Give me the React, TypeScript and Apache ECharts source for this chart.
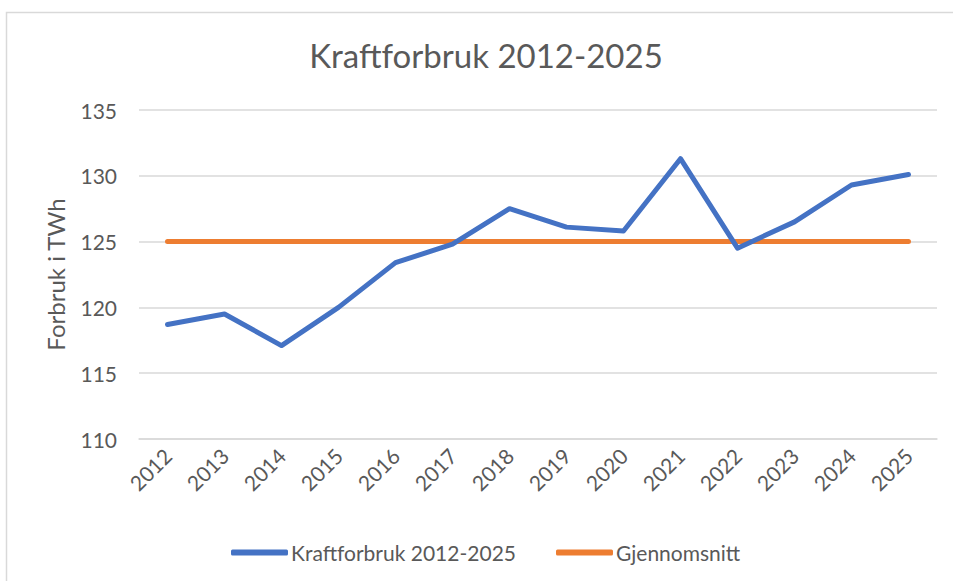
import React, { useEffect, useRef } from "react";
import * as echarts from "echarts";

const years = ["2012", "2013", "2014", "2015", "2016", "2017", "2018", "2019", "2020", "2021", "2022", "2023", "2024", "2025"];
const consumption = [118.7, 119.5, 117.1, 120.0, 123.4, 124.8, 127.5, 126.1, 125.8, 131.3, 124.5, 126.5, 129.3, 130.1];
const average = [125, 125, 125, 125, 125, 125, 125, 125, 125, 125, 125, 125, 125, 125];
const yTicks = { min: 110, max: 135, interval: 5 };

const FONT = "Lato, 'Noto Sans', sans-serif";
const TEXT = "#595959";

export default function App() {
  const ref = useRef<HTMLDivElement>(null);
  useEffect(() => {
    document.body.style.margin = "0";
    const chart = echarts.init(ref.current!, null, { renderer: "svg" });
    chart.setOption({
      animation: false,
      backgroundColor: "#ffffff",
      textStyle: { fontFamily: FONT, color: TEXT },
      title: {
        text: "Kraftforbruk 2012-2025",
        left: 481,
        top: 33,
        textAlign: "center",
        textStyle: { fontFamily: FONT, fontSize: 33, fontWeight: "normal", color: TEXT },
      },
      graphic: [
        {
          type: "rect",
          silent: true,
          shape: { x: 6.5, y: 12.5, width: 1000, height: 1000 },
          style: { fill: "none", stroke: "#d9d9d9", lineWidth: 1.5 },
        },
      ],
      legend: {
        left: 226,
        top: 537,
        itemWidth: 57,
        itemHeight: 6,
        itemGap: 40,
        icon: "roundRect",
        textStyle: { fontFamily: FONT, fontSize: 21, color: TEXT, padding: [0, 0, 0, -2] },
        data: ["Kraftforbruk 2012-2025", "Gjennomsnitt"],
      },
      grid: { left: 139, right: 16, top: 110, bottom: 142 },
      xAxis: {
        type: "category",
        data: years,
        boundaryGap: true,
        axisLine: { lineStyle: { color: "#d9d9d9", width: 1.5 } },
        axisTick: { show: false },
        axisLabel: { rotate: 45, fontSize: 21, color: TEXT, fontFamily: FONT, margin: 13 },
      },
      yAxis: {
        type: "value",
        min: yTicks.min,
        max: yTicks.max,
        interval: yTicks.interval,
        name: "Forbruk i TWh",
        nameLocation: "middle",
        nameRotate: 90,
        nameGap: 72,
        nameTextStyle: { fontFamily: FONT, fontSize: 24, color: TEXT },
        axisLine: { show: false },
        axisTick: { show: false },
        axisLabel: { fontSize: 21, color: TEXT, fontFamily: FONT, margin: 22 },
        splitLine: { lineStyle: { color: "#d9d9d9", width: 1.5 } },
      },
      series: [
        {
          name: "Kraftforbruk 2012-2025",
          type: "line",
          data: consumption,
          showSymbol: false,
          symbol: "none",
          itemStyle: { color: "#4472C4" },
          lineStyle: { color: "#4472C4", width: 5, cap: "round", join: "round" },
          z: 3,
        },
        {
          name: "Gjennomsnitt",
          type: "line",
          data: average,
          showSymbol: false,
          symbol: "none",
          itemStyle: { color: "#ED7D31" },
          lineStyle: { color: "#ED7D31", width: 5, cap: "round" },
          z: 2,
        },
      ],
    });
    return () => chart.dispose();
  }, []);
  return <div ref={ref} style={{ width: 953, height: 581 }} />;
}
